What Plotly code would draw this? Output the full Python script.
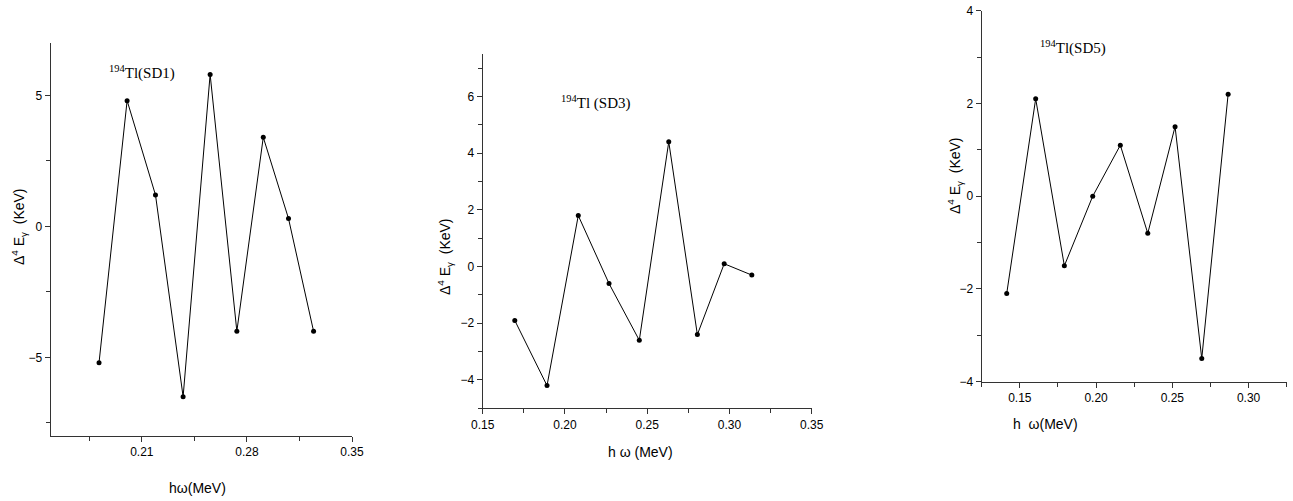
import plotly.graph_objects as go

W, H = 1293, 501

# ---- data ----
sd1_hw = [0.1815, 0.2002, 0.2191, 0.2375, 0.2555, 0.2733, 0.2909, 0.3077, 0.3244]
sd1_d4e = [-5.2, 4.8, 1.2, -6.5, 5.8, -4.0, 3.4, 0.3, -4.0]

sd3_hw = [0.1695, 0.1891, 0.2081, 0.2268, 0.2452, 0.2631, 0.2805, 0.2968, 0.3136]
sd3_d4e = [-1.9, -4.2, 1.8, -0.6, -2.6, 4.4, -2.4, 0.1, -0.3]

sd5_hw = [0.1414, 0.1604, 0.1792, 0.1978, 0.2159, 0.2339, 0.2518, 0.2693, 0.2866]
sd5_d4e = [-2.1, 2.1, -1.5, 0.0, 1.1, -0.8, 1.5, -3.5, 2.2]

labels = ["<sup>194</sup>Tl(SD1)", "<sup>194</sup>Tl (SD3)", "<sup>194</sup>Tl(SD5)"]
xtitles = ["hω(MeV)", "h ω (MeV)", "h  ω(MeV)"]
ytitle = "Δ<sup>4</sup> E<sub>γ</sub>  (KeV)"


def px(x):
    return x / W


def py(y):
    return 1 - y / H


fig = go.Figure()

series = [(sd1_hw, sd1_d4e), (sd3_hw, sd3_d4e), (sd5_hw, sd5_d4e)]
for i, (xs, ys) in enumerate(series):
    sfx = "" if i == 0 else str(i + 1)
    fig.add_trace(go.Scatter(
        x=xs, y=ys, mode="lines+markers",
        line=dict(color="black", width=1),
        marker=dict(color="black", size=5),
        xaxis="x" + sfx, yaxis="y" + sfx, showlegend=False,
    ))

axis_common = dict(
    showline=True, linecolor="#333", linewidth=1, mirror=False,
    showgrid=False, zeroline=False, ticks="outside", ticklen=5,
    tickcolor="#333", tickwidth=1, automargin=False,
    tickfont=dict(family="Liberation Sans, Arial", size=12, color="black"),
)

# panel layouts: (x domain px, y domain px)
doms = [
    ((50.7, 352.0), (43.0, 436.0)),
    ((482.7, 811.7), (54.0, 408.3)),
    ((981.7, 1286.7), (10.7, 381.7)),
]
xranges = [[0.1493, 0.35], [0.15, 0.35], [0.125, 0.325]]
yranges = [[-8, 7], [-5, 7.5], [-4, 4]]
xticks = [(0.14, 0.07, 0.035), (0.15, 0.05, 0.025), (0.15, 0.05, 0.025)]
yticks = [(0, 5, 2.5), (0, 2, 1), (0, 2, 1)]

layout = {}
for i in range(3):
    sfx = "" if i == 0 else str(i + 1)
    (x0, x1), (y0, y1) = doms[i]
    xa = dict(axis_common)
    xa.update(domain=[px(x0), px(x1)], range=xranges[i],
              anchor="y" + sfx, tick0=xticks[i][0], dtick=xticks[i][1],
              tickformat=".2f",
              minor=dict(ticks="outside", tick0=xticks[i][0], dtick=xticks[i][2],
                         ticklen=4, tickcolor="#333"))
    ya = dict(axis_common)
    ya.update(domain=[py(y1), py(y0)], range=yranges[i],
              anchor="x" + sfx, tick0=yticks[i][0], dtick=yticks[i][1],
              minor=dict(ticks="outside", tick0=yticks[i][0], dtick=yticks[i][2],
                         ticklen=4, tickcolor="#333"))
    layout["xaxis" + sfx] = xa
    layout["yaxis" + sfx] = ya

fig.update_layout(**layout)

ann = []
label_pos = [(142, 73), (596, 102), (1073, 48)]
xt_pos = [(197, 488), (640, 452), (1045, 424)]
yt_pos = [(19, 227), (445, 257), (955, 176)]
for i in range(3):
    ann.append(dict(text=labels[i], x=px(label_pos[i][0]), y=py(label_pos[i][1]),
                    xref="paper", yref="paper", showarrow=False,
                    xanchor="center", yanchor="middle",
                    font=dict(family="Liberation Serif, Times New Roman", size=15, color="black")))
    ann.append(dict(text=xtitles[i], x=px(xt_pos[i][0]), y=py(xt_pos[i][1]),
                    xref="paper", yref="paper", showarrow=False,
                    xanchor="center", yanchor="middle",
                    font=dict(family="Liberation Sans, Arial", size=14, color="black")))
    ann.append(dict(text=ytitle, x=px(yt_pos[i][0]), y=py(yt_pos[i][1]),
                    xref="paper", yref="paper", showarrow=False, textangle=-90,
                    xanchor="center", yanchor="middle",
                    font=dict(family="Liberation Sans, Arial", size=14, color="black")))

fig.update_layout(
    annotations=ann,
    width=W, height=H,
    margin=dict(l=0, r=0, t=0, b=0, autoexpand=False),
    paper_bgcolor="white", plot_bgcolor="white",
    showlegend=False,
)

fig.write_html("out.html", config={"displayModeBar": False},
               post_script="document.body.style.margin='0';")
